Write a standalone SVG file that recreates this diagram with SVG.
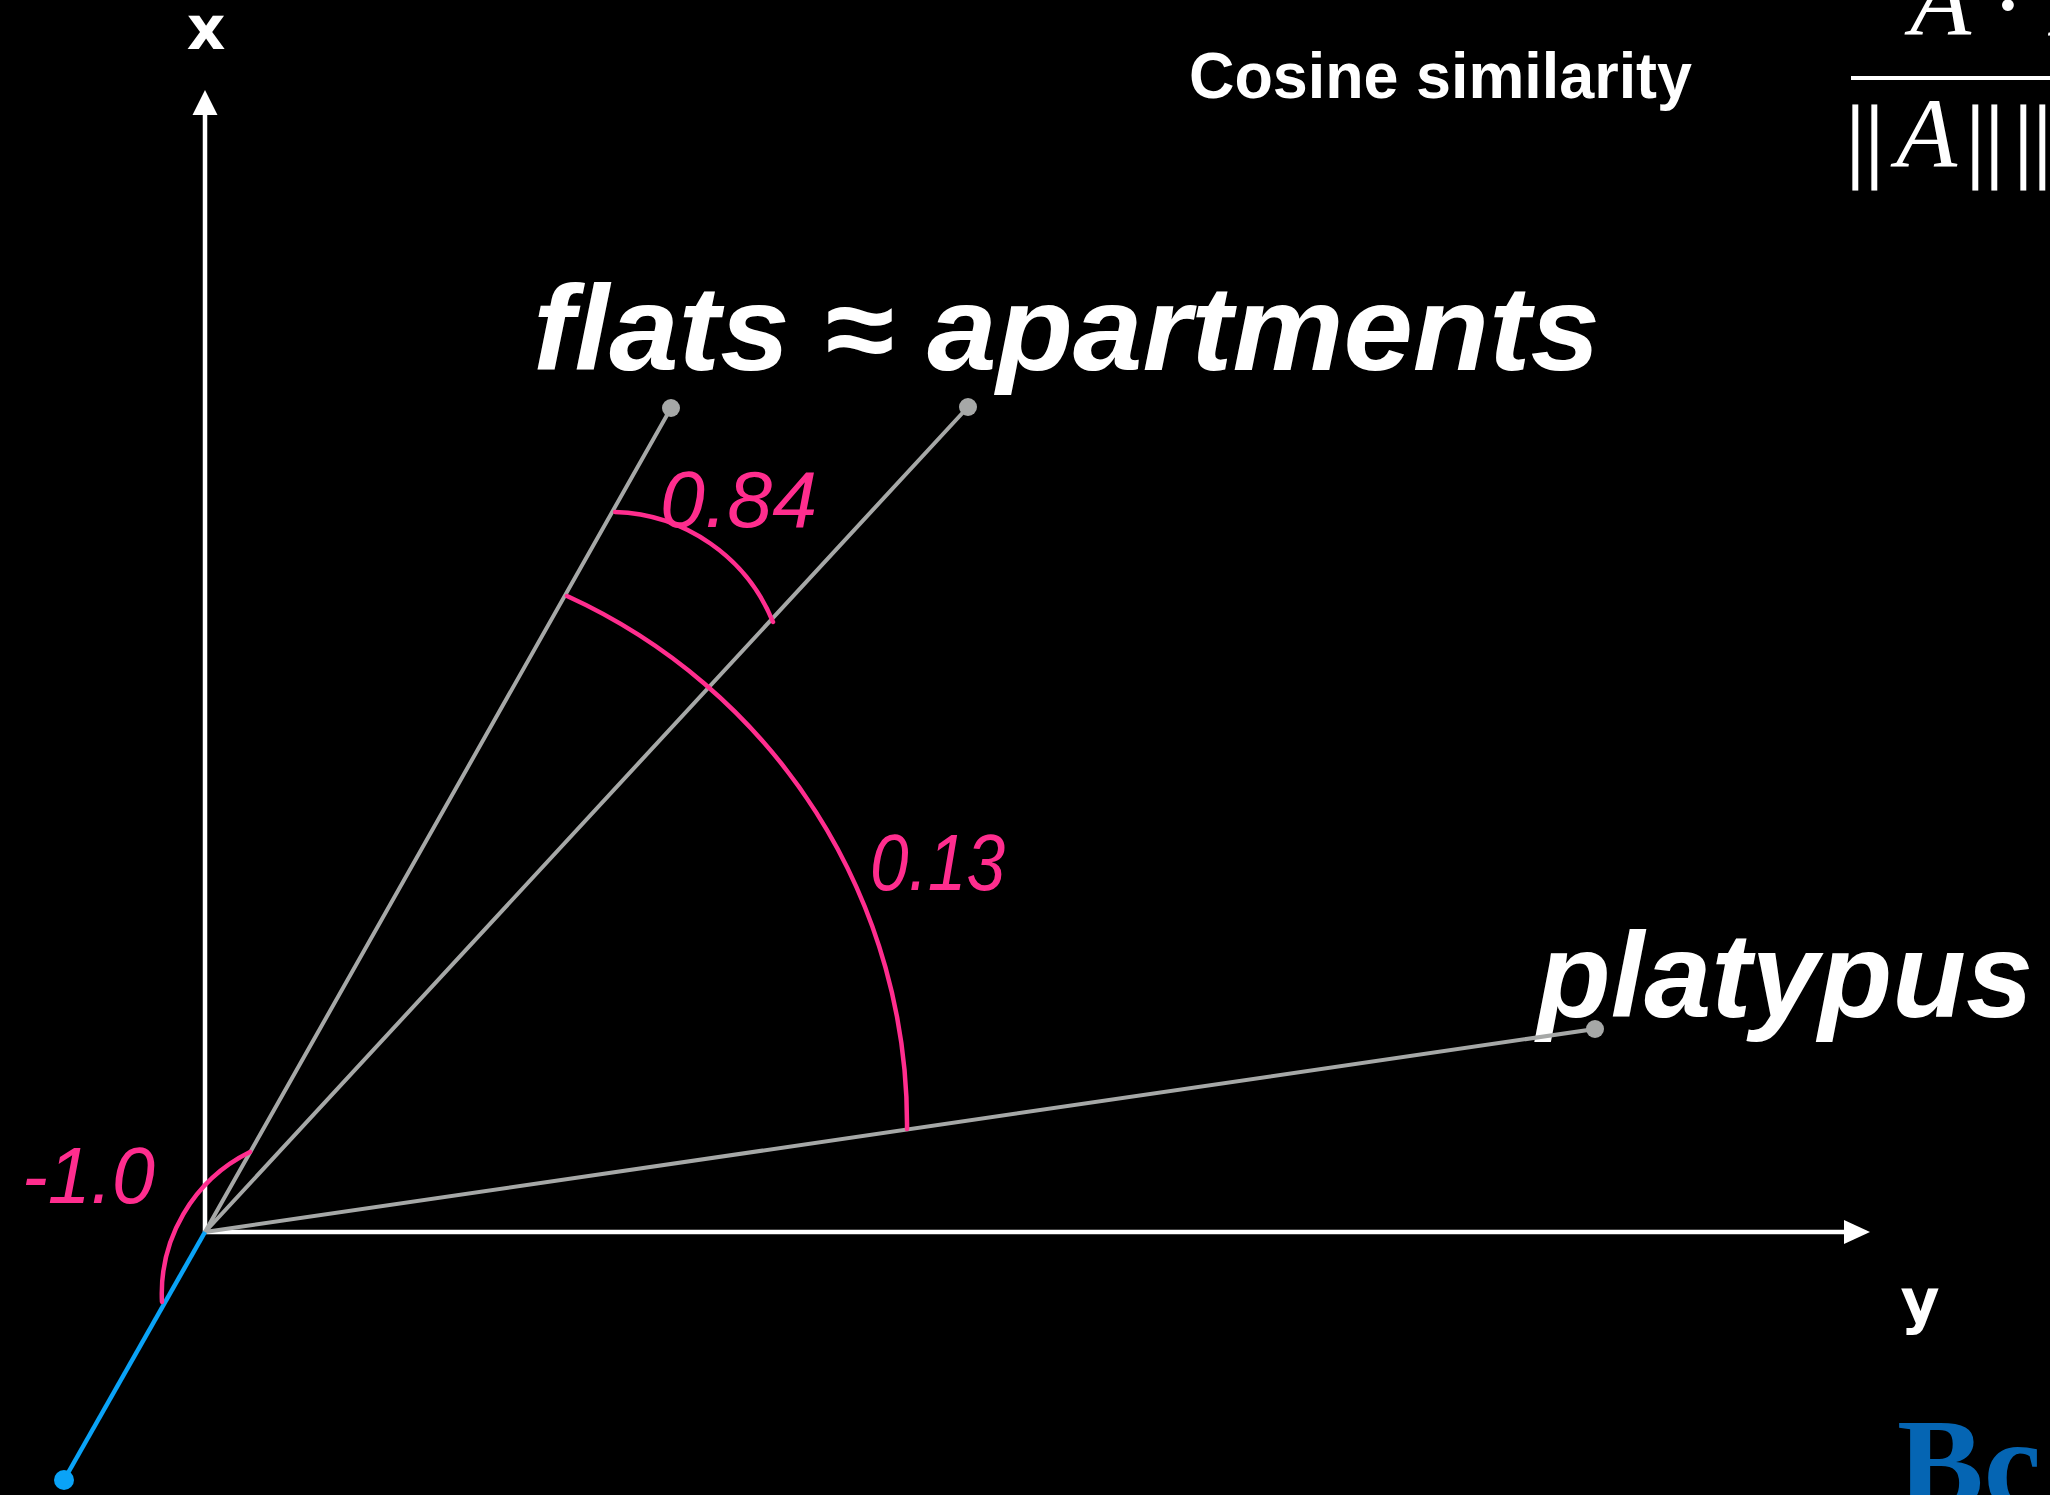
<svg xmlns="http://www.w3.org/2000/svg" width="2050" height="1495" viewBox="0 0 2050 1495">
  <style>
    .axis { stroke: #ffffff; stroke-width: 4.5; fill: none; }
    .arrow { fill: #ffffff; }
    .vec { stroke: #a6a8a7; stroke-width: 4; fill: none; stroke-linecap: round; }
    .dot { fill: #a6a8a7; }
    .arc { stroke: #ff2d8e; stroke-width: 4.5; fill: none; stroke-linecap: round; }
    .hand { fill: #ff2d8e; font-family: "Liberation Sans", Arial, sans-serif; font-style: italic; font-size: 80px; }
    .word { fill: #ffffff; font-family: "Liberation Sans", Arial, sans-serif; font-style: italic; font-weight: bold; font-size: 120px; }
    .axlbl { fill: #ffffff; font-family: "DejaVu Sans", sans-serif; font-weight: bold; font-size: 60px; text-anchor: middle; }
    .math { fill: #ffffff; font-family: "Liberation Serif", "Times New Roman", serif; font-size: 100px; }
    .bars { fill: #ffffff; stroke: #ffffff; stroke-width: 1.2; font-family: "Liberation Serif", "Times New Roman", serif; font-size: 93px; }
  </style>
  <rect x="0" y="0" width="2050" height="1495" fill="#000000"/>

  <g id="formula">
    <text class="math" font-style="italic" x="1910" y="35">A</text>
    <text class="math" x="2008" y="38" text-anchor="middle">·</text>
    <text class="math" font-style="italic" x="2047" y="35">B</text>
    <line x1="1851" y1="78" x2="2050" y2="78" stroke="#ffffff" stroke-width="4"/>
    <text class="bars" x="1846 1865" y="170">||</text>
    <text class="math" font-style="italic" x="1896" y="167">A</text>
    <text class="bars" x="1966 1985" y="170">||</text>
    <text class="bars" x="2014 2033" y="170">||</text>
  </g>

  <g id="title">
    <text x="1189" y="98" fill="#ffffff" font-family="Liberation Sans, Arial, sans-serif" font-weight="bold" font-size="64" textLength="503" lengthAdjust="spacingAndGlyphs">Cosine similarity</text>
  </g>

  <g id="axes">
    <line class="axis" x1="205" y1="1232" x2="205" y2="112"/>
    <polygon class="arrow" points="205,90 192.5,115 217.5,115"/>
    <line class="axis" x1="205" y1="1232" x2="1848" y2="1232"/>
    <polygon class="arrow" points="1870,1232 1844,1220 1844,1244"/>
    <text class="axlbl" x="206" y="49">x</text>
    <text class="axlbl" x="1920" y="1322">y</text>
  </g>

  <g id="label-flats-apartments">
    <text class="word" x="533" y="370" textLength="1067" lengthAdjust="spacingAndGlyphs">flats ≈ apartments</text>
  </g>
  <g id="label-platypus">
    <text class="word" x="1537" y="1017" textLength="496" lengthAdjust="spacingAndGlyphs">platypus</text>
  </g>

  <g id="connectors">
    <line class="vec" x1="205" y1="1232" x2="671" y2="408"/>
    <line class="vec" x1="205" y1="1232" x2="968" y2="407"/>
    <line class="vec" x1="205" y1="1232" x2="1595" y2="1029"/>
    <line x1="205" y1="1232" x2="64" y2="1480" stroke="#0aa3f7" stroke-width="4.5"/>
  </g>

  <g id="node-flats"><circle class="dot" cx="671" cy="408" r="9"/></g>
  <g id="node-apartments"><circle class="dot" cx="968" cy="407" r="9"/></g>
  <g id="node-platypus"><circle class="dot" cx="1595" cy="1029" r="9"/></g>
  <g id="node-opposite"><circle cx="64" cy="1480" r="10" fill="#0aa3f7"/></g>

  <g id="angle-084">
    <path class="arc" d="M 615 512 A 176 176 0 0 1 773 622"/>
    <text class="hand" x="660" y="527" textLength="157" lengthAdjust="spacingAndGlyphs">0.84</text>
  </g>
  <g id="angle-013">
    <path class="arc" d="M 567 596 A 580 580 0 0 1 907 1129"/>
    <text class="hand" x="870" y="890" textLength="135" lengthAdjust="spacingAndGlyphs">0.13</text>
  </g>
  <g id="angle-neg1">
    <path class="arc" d="M 250 1152 A 158 158 0 0 0 162 1302"/>
    <text class="hand" x="22" y="1203" textLength="133" lengthAdjust="spacingAndGlyphs">-1.0</text>
  </g>

  <g id="logo">
    <text x="1897" y="1508" fill="#0565b3" font-family="Liberation Serif, 'Times New Roman', serif" font-weight="bold" font-size="130">Bc</text>
  </g>
</svg>
